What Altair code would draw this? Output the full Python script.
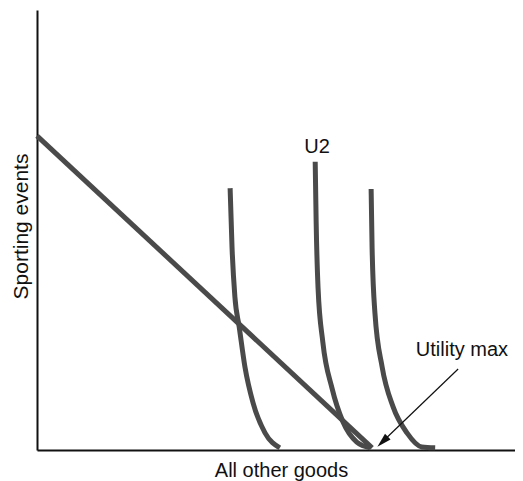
import altair as alt
import pandas as pd

# Budget line (All other goods vs Sporting events)
budget_x = [0.0, 7.01]
budget_y = [7.14, 0.05]

# Indifference curves
u1_x = [4.04, 4.08, 4.14, 4.23, 4.35, 4.52, 4.77, 5.08]
u1_y = [5.95, 4.61, 3.48, 2.80, 1.89, 1.07, 0.39, 0.05]

u2_x = [5.82, 5.84, 5.88, 5.98, 6.17, 6.40, 6.69, 6.97]
u2_y = [6.55, 5.18, 3.68, 2.45, 1.41, 0.64, 0.18, 0.05]

u3_x = [6.99, 7.01, 7.07, 7.22, 7.45, 7.74, 8.05, 8.33]
u3_y = [5.93, 4.61, 3.11, 1.89, 0.98, 0.39, 0.07, 0.05]

# Annotations
label_text = ["U2", "Utility max"]
label_x = [5.86, 8.89]
label_y = [6.89, 2.27]

arrow_x = [8.81, 7.20]
arrow_y = [1.84, 0.16]
head_x = [7.23]
head_y = [0.19]

rows = []
for name, xs, ys in [("U1", u1_x, u1_y), ("U2", u2_x, u2_y), ("U3", u3_x, u3_y)]:
    for i, (a, b) in enumerate(zip(xs, ys)):
        rows.append({"curve": name, "i": i, "x": a, "y": b})
curves_df = pd.DataFrame(rows)
budget_df = pd.DataFrame({"x": budget_x, "y": budget_y, "i": [0, 1]})
labels_df = pd.DataFrame({"x": label_x, "y": label_y, "text": label_text})
arrow_df = pd.DataFrame({"x": arrow_x, "y": arrow_y, "i": [0, 1]})
head_df = pd.DataFrame({"x": head_x, "y": head_y})

FONT = "Liberation Sans"
xscale = alt.Scale(domain=[0, 10], nice=False, zero=False)
yscale = alt.Scale(domain=[0, 10], nice=False, zero=False)

xaxis = alt.Axis(
    title="All other goods", ticks=False, labels=False, grid=False,
    domainColor="#111111", domainWidth=2,
    titleFont=FONT, titleFontSize=20, titleFontWeight="normal", titleColor="#111111",
    titleX=244, titleY=26, titleBaseline="alphabetic", titleAlign="center", titleAnchor="middle",
)
yaxis = alt.Axis(
    title="Sporting events", ticks=False, labels=False, grid=False,
    domainColor="#111111", domainWidth=2,
    titleFont=FONT, titleFontSize=21, titleFontWeight="normal", titleColor="#111111",
    titleX=-10, titleY=216, titleAngle=-90, titleBaseline="alphabetic", titleAlign="center",
    titleAnchor="middle",
)

X = alt.X("x:Q", scale=xscale, axis=xaxis)
Y = alt.Y("y:Q", scale=yscale, axis=yaxis)

LINE = "#4a4a4a"

budget = alt.Chart(budget_df).mark_line(color=LINE, strokeWidth=5, strokeCap="butt").encode(
    x=X, y=Y, order="i:Q"
)

curves = alt.Chart(curves_df).mark_line(
    color=LINE, strokeWidth=5, interpolate="monotone", strokeCap="butt"
).encode(x=X, y=Y, detail="curve:N", order="i:Q")

labels = alt.Chart(labels_df).mark_text(
    font=FONT, fontSize=20, color="#111111", align="center", baseline="middle"
).encode(x=X, y=Y, text="text:N")

arrow = alt.Chart(arrow_df).mark_line(color="#111111", strokeWidth=1.2).encode(
    x=X, y=Y, order="i:Q"
)

head = alt.Chart(head_df).mark_point(
    shape="M0,-1L0.55,1L-0.55,1Z", filled=True, color="#111111", opacity=1,
    size=210, angle=226, strokeWidth=0
).encode(x=X, y=Y)

chart = alt.layer(budget, curves, arrow, head, labels).properties(
    width=478, height=440,
    autosize=alt.AutoSizeParams(type="none"),
    padding={"left": 29, "top": 2, "right": 0, "bottom": 31},
).configure_view(stroke=None)

chart.save("out.html", embed_options={"renderer": "svg", "actions": False})
